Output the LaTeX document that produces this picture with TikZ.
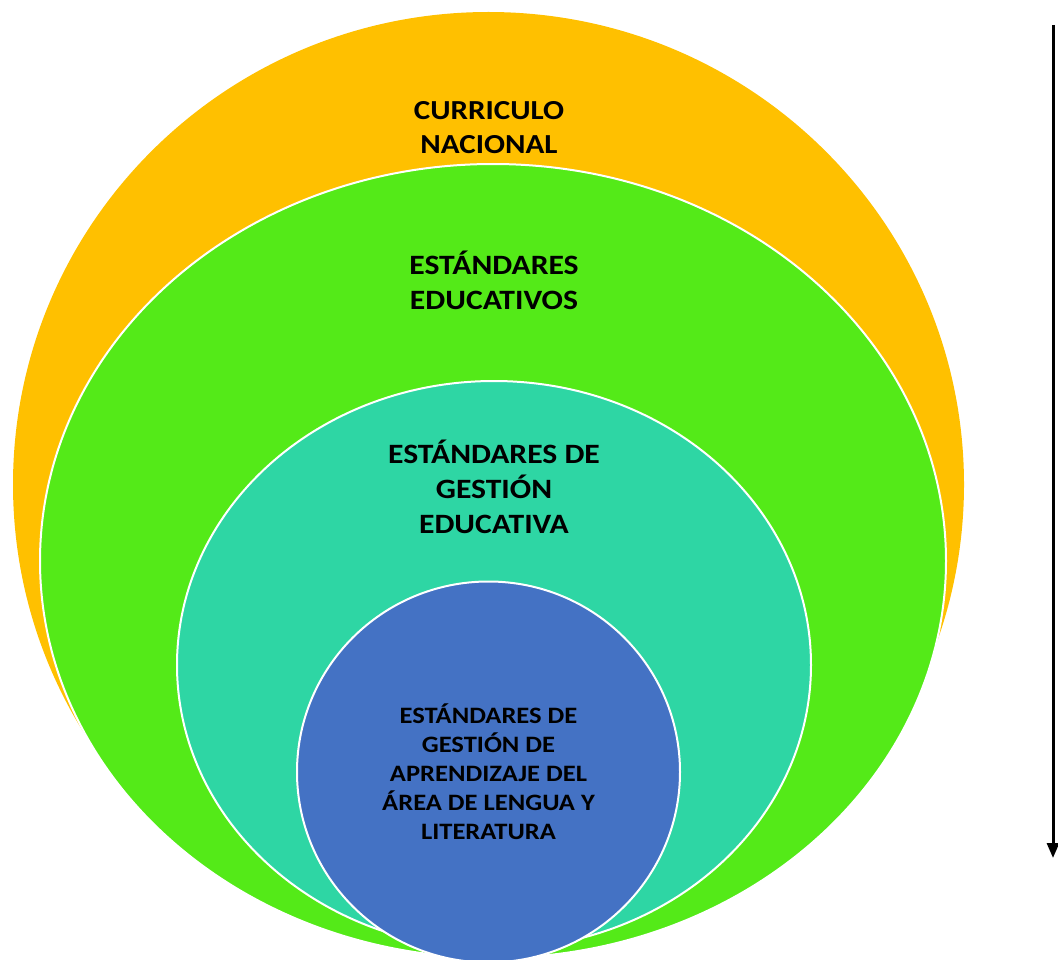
\documentclass[tikz,border=0pt]{standalone}
\usepackage{fontspec}
\setmainfont{Carlito}
\usetikzlibrary{shapes.geometric,arrows.meta}
\definecolor{cOrange}{HTML}{FFC000}
\definecolor{cGreen}{HTML}{54EA18}
\definecolor{cTeal}{HTML}{2ED6A4}
\definecolor{cBlue}{HTML}{4472C4}
\tikzset{
  ring/.style={ellipse, inner sep=0pt, outer sep=0pt},
  ringline/.style={ring, draw=white, line width=2pt},
  bigtxt/.style={align=center, font=\fontsize{28}{35}\selectfont\bfseries, text=black, inner sep=0pt, transform shape},
  smalltxt/.style={align=center, font=\fontsize{23.5}{28.9}\selectfont\bfseries, text=black, inner sep=0pt, transform shape},
  widen/.style={xscale=1.13},
}
\begin{document}
\begin{tikzpicture}[x=1pt,y=-1pt]
\useasboundingbox (0,0) rectangle (1058,960);
\node[ring, fill=cOrange, minimum width=951pt, minimum height=945pt] (orange) at (488.5,484.5) {};
\node[ringline, fill=cGreen, minimum width=906pt, minimum height=794pt] (green) at (493,561) {};
\node[ringline, fill=cTeal, minimum width=634pt, minimum height=568pt] (teal) at (494,665) {};
\node[ringline, fill=cBlue, minimum width=383pt, minimum height=381pt] (blue) at (488.5,772) {};
\begin{scope}[shift={(489,127.5)}, widen]
\node[bigtxt, font=\fontsize{27.5}{33.5}\selectfont\bfseries] (t1) at (0,0) {CURRICULO\\NACIONAL};
\end{scope}
\begin{scope}[shift={(494,280)}, widen]
\node[bigtxt] (t2) at (0,0) {ESTÁNDARES\\EDUCATIVOS};
\end{scope}
\begin{scope}[shift={(494,487)}, widen]
\node[bigtxt] (t3) at (0,0) {ESTÁNDARES DE\\GESTIÓN\\EDUCATIVA};
\end{scope}
\begin{scope}[shift={(488.5,771.5)}, widen]
\node[smalltxt] (t4) at (0,0) {ESTÁNDARES DE\\GESTIÓN DE\\APRENDIZAJE DEL\\ÁREA DE LENGUA Y\\LITERATURA};
\end{scope}
\coordinate (atop) at (1053,25);
\coordinate (abot) at (1053,858);
\draw[line width=3pt, -{Triangle[width=12pt,length=15pt]}] (atop) -- (abot);
\end{tikzpicture}
\end{document}
